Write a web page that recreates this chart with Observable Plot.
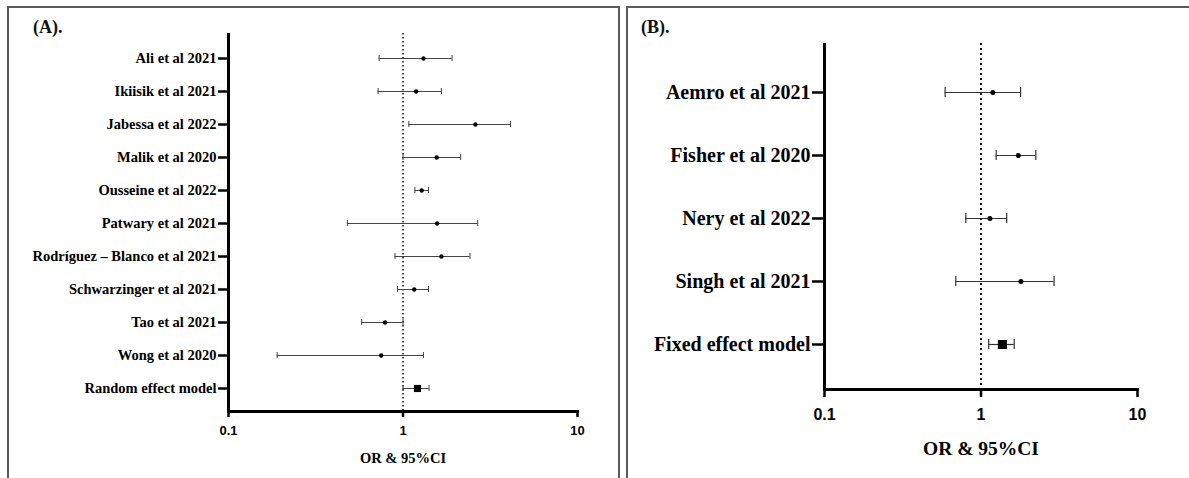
<!DOCTYPE html>
<html><head><meta charset="utf-8">
<script src="https://cdn.jsdelivr.net/npm/d3@7"></script>
<script src="https://cdn.jsdelivr.net/npm/@observablehq/plot@0.6"></script>
<style>
html,body{margin:0;padding:0;background:#fff;}
body{width:1189px;height:478px;overflow:hidden;position:relative;}
.panel{position:absolute;border:2px solid #5a5a5a;border-bottom:none;box-sizing:border-box;}
#pa{left:7px;top:6px;width:613px;height:480px;}
#pb{left:626px;top:6px;width:580px;height:480px;}
.title{position:absolute;font-family:"Liberation Serif",serif;font-weight:bold;font-size:18px;line-height:18px;color:#111;}
#ta{left:33px;top:18px;}
#tb{left:641px;top:18px;}
#chartA{position:absolute;left:0;top:0;}
#chartB{position:absolute;left:627px;top:0;}
</style>
</head><body>
<div class="panel" id="pa"></div>
<div class="panel" id="pb"></div>
<div class="title" id="ta">(A).</div>
<div class="title" id="tb">(B).</div>
<div id="chartA"></div>
<div id="chartB"></div>
<script>
// Panel A data
const studiesA = ["Ali et al 2021", "Ikiisik et al 2021", "Jabessa et al 2022", "Malik et al 2020", "Ousseine et al 2022", "Patwary et al 2021", "Rodríguez – Blanco et al 2021", "Schwarzinger et al 2021", "Tao et al 2021", "Wong et al 2020", "Random effect model"];
const orA = [1.31, 1.19, 2.60, 1.56, 1.28, 1.57, 1.66, 1.16, 0.79, 0.75, 1.21];
const loA = [0.73, 0.72, 1.08, 1.00, 1.17, 0.48, 0.90, 0.93, 0.58, 0.19, 1.00];
const hiA = [1.91, 1.66, 4.13, 2.14, 1.40, 2.68, 2.42, 1.40, 1.00, 1.31, 1.41];
const summaryA = "Random effect model";

// Panel B data
const studiesB = ["Aemro et al 2021", "Fisher et al 2020", "Nery et al 2022", "Singh et al 2021", "Fixed effect model"];
const orB = [1.19, 1.73, 1.14, 1.80, 1.37];
const loB = [0.59, 1.25, 0.80, 0.69, 1.12];
const hiB = [1.79, 2.24, 1.46, 2.93, 1.63];
const summaryB = "Fixed effect model";

const xTicks = [0.1, 1, 10];
const xLabel = "OR & 95%CI";

function forest(studies, or, lo, hi, summary, cfg) {
  const data = studies.map((s, i) => ({study: s, or: or[i], lo: lo[i], hi: hi[i], summary: s === summary}));
  return Plot.plot({
    width: cfg.width, height: 478,
    marginLeft: cfg.ml, marginRight: cfg.mr, marginTop: cfg.mt, marginBottom: cfg.mb,
    style: {background: "transparent", overflow: "visible"},
    x: {type: "log", domain: [0.1, 10]},
    y: {type: "point", domain: studies, padding: 0, insetTop: cfg.it, insetBottom: cfg.ib},
    marks: [
      Plot.ruleX([1], {strokeDasharray: cfg.dash, strokeWidth: cfg.dotW, stroke: "#111"}),
      Plot.ruleY(data, {y: "study", x1: "lo", x2: "hi", stroke: cfg.barColor, strokeWidth: cfg.barW}),
      Plot.ruleX(data, {y1: "study", y2: "study", x: "lo", insetTop: -cfg.cap, insetBottom: -cfg.cap, stroke: cfg.barColor, strokeWidth: cfg.barW}),
      Plot.ruleX(data, {y1: "study", y2: "study", x: "hi", insetTop: -cfg.cap, insetBottom: -cfg.cap, stroke: cfg.barColor, strokeWidth: cfg.barW}),
      Plot.dot(data.filter(d => !d.summary), {x: "or", y: "study", r: cfg.r, fill: "#000", stroke: "none"}),
      Plot.dot(data.filter(d => d.summary), {x: "or", y: "study", symbol: "square", r: cfg.sq, fill: "#000", stroke: "none"}),
      Plot.ruleX([0.1], {strokeWidth: 3, stroke: "#000"}),
      Plot.frame({anchor: "bottom", strokeWidth: 3, stroke: "#000"}),
      Plot.axisX({ticks: xTicks, tickFormat: d => String(d), tickSize: cfg.xts, tickPadding: cfg.xtp, strokeWidth: 2.5,
        fontSize: cfg.xfs, fontWeight: "bold", fontFamily: "Liberation Sans", label: null}),
      Plot.axisY({tickSize: cfg.yts, tickPadding: 2, strokeWidth: 2.5, fontSize: cfg.yfs, fontWeight: "bold",
        fontFamily: "Liberation Serif", label: null}),
      Plot.text([xLabel], {text: d => d, frameAnchor: "bottom", dy: cfg.ldy, fontSize: cfg.lfs, fontWeight: "bold",
        fontFamily: "Liberation Serif", fill: "#000"})
    ]
  });
}

document.getElementById("chartA").append(forest(studiesA, orA, loA, hiA, summaryA, {
  width: 620, ml: 228, mr: 43, mt: 33, mb: 67, it: 24.5, ib: 22,
  dash: "1.5,2.5", dotW: 1.5, barColor: "#444", barW: 1, cap: 3, r: 2.2, sq: 4,
  xts: 6, xtp: 8, xfs: 13, yts: 10, yfs: 14.5, ldy: 51, lfs: 14.5
}));
document.getElementById("chartB").append(forest(studiesB, orB, loB, hiB, summaryB, {
  width: 562, ml: 197, mr: 52, mt: 43, mb: 89, it: 47, ib: 44,
  dash: "2,3", dotW: 2, barColor: "#333", barW: 1.2, cap: 5, r: 2.5, sq: 5.1,
  xts: 8, xtp: 11, xfs: 16, yts: 12, yfs: 20, ldy: 65, lfs: 19.5
}));
</script>
</body></html>
